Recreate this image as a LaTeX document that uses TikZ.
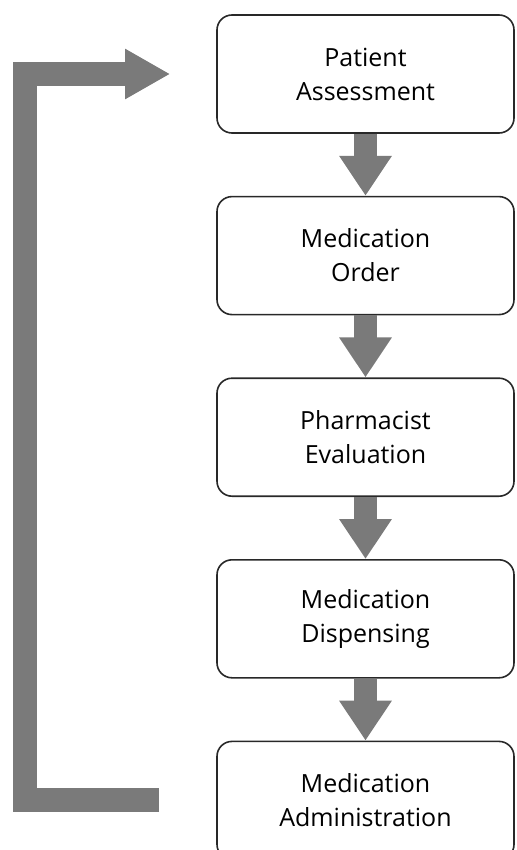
\documentclass[tikz,border=0pt]{standalone}
\usepackage{fontspec}
\setmainfont{Open Sans}
\usetikzlibrary{arrows.meta,positioning}
\definecolor{arrowgray}{RGB}{122,122,122}
\definecolor{boxline}{RGB}{40,40,40}

\begin{document}
\begin{tikzpicture}[x=1pt,y=1pt,
  stepbox/.style={draw=boxline, line width=1.6pt, rounded corners=15pt,
    minimum width=297pt, minimum height=118pt, align=center,
    font=\fontsize{25}{34}\selectfont, text=black},
  flow/.style={draw=arrowgray, line width=23pt, -{Triangle[width=50pt,length=40pt]}},
  node distance=62pt]
\useasboundingbox (0,0) rectangle (516,-850);
\node[stepbox] (assess) at (365.5,-74) {Patient\\Assessment};
\node[stepbox, below=of assess] (order) {Medication\\Order};
\node[stepbox, below=of order] (evalu) {Pharmacist\\Evaluation};
\node[stepbox, below=of evalu] (disp) {Medication\\Dispensing};
\node[stepbox, below=of disp] (admin) {Medication\\Administration};
\foreach \a/\b in {assess/order,order/evalu,evalu/disp,disp/admin}
  \draw[flow] (\a) -- (\b);
% back to the start
\draw[draw=arrowgray, line width=24pt, -{Triangle[width=47pt,length=45pt]},
  shorten <=57pt, shorten >=46pt]
  (admin.west) -- ++(-190.75,0) |- (assess.west);
\end{tikzpicture}
\end{document}
